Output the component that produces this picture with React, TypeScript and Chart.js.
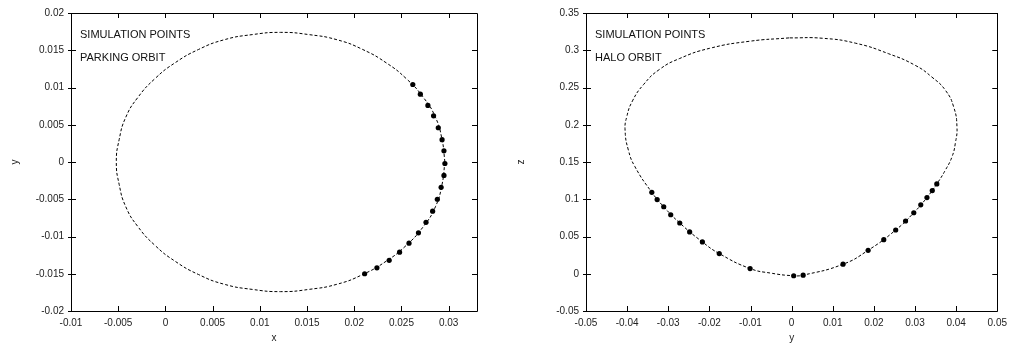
import React, { useEffect, useRef } from "react";
import { Chart, registerables } from "chart.js";

Chart.register(...registerables);

// ---------- Left chart: parking orbit (x / y) ----------
const parkingSimX = [0.0262, 0.0270, 0.0278, 0.0284, 0.0289, 0.0293, 0.0295, 0.0296, 0.0295, 0.0292, 0.0288, 0.0283, 0.0276, 0.0268, 0.0258, 0.0248, 0.0237, 0.0224, 0.0211];
const parkingSimY = [0.0104, 0.0091, 0.0076, 0.0062, 0.0046, 0.0030, 0.0015, -0.0002, -0.0018, -0.0034, -0.0050, -0.0066, -0.0081, -0.0095, -0.0109, -0.0121, -0.0132, -0.0142, -0.0150];

const parkingOrbitX = [0.0296, 0.0293, 0.0286, 0.0273, 0.0255, 0.0234, 0.0209, 0.0182, 0.0152, 0.0122, 0.0092, 0.0062, 0.0035, 0.0010, -0.0011, -0.0029, -0.0042, -0.0049, -0.0052, -0.0049, -0.0042, -0.0029, -0.0011, 0.0010, 0.0035, 0.0062, 0.0092, 0.0122, 0.0152, 0.0182, 0.0209, 0.0234, 0.0255, 0.0273, 0.0286, 0.0293, 0.0296];
const parkingOrbitY = [0, 0.0030, 0.0060, 0.0087, 0.0112, 0.0133, 0.0151, 0.0164, 0.0171, 0.0174, 0.0171, 0.0164, 0.0151, 0.0133, 0.0112, 0.0087, 0.0060, 0.0030, 0, -0.0030, -0.0060, -0.0087, -0.0112, -0.0133, -0.0151, -0.0164, -0.0171, -0.0174, -0.0171, -0.0164, -0.0151, -0.0133, -0.0112, -0.0087, -0.0060, -0.0030, 0];

const leftXTicks = [-0.01, -0.005, 0, 0.005, 0.01, 0.015, 0.02, 0.025, 0.03];
const leftYTicks = [-0.02, -0.015, -0.01, -0.005, 0, 0.005, 0.01, 0.015, 0.02];

// ---------- Right chart: halo orbit (y / z) ----------
const haloSimY = [-0.0340, -0.0327, -0.0311, -0.0294, -0.0272, -0.0248, -0.0217, -0.0176, -0.0101, 0.0005, 0.0028, 0.0125, 0.0186, 0.0224, 0.0253, 0.0277, 0.0297, 0.0314, 0.0329, 0.0342, 0.0353];
const haloSimZ = [0.1093, 0.0996, 0.0899, 0.0792, 0.0681, 0.0561, 0.0427, 0.0271, 0.0070, -0.0027, -0.0019, 0.0128, 0.0315, 0.0458, 0.0587, 0.0708, 0.0819, 0.0925, 0.1023, 0.1117, 0.1206];

const haloOrbitY = [-0.0006, -0.0102, -0.0200, -0.0272, -0.0322, -0.0360, -0.0387, -0.0401, -0.0405, -0.0397, -0.0381, -0.0340, -0.0311, -0.0272, -0.0217, -0.0176, -0.0101, -0.0050, 0.0005, 0.0028, 0.0125, 0.0186, 0.0253, 0.0297, 0.0329, 0.0353, 0.0374, 0.0390, 0.0398, 0.0402, 0.0394, 0.0374, 0.0341, 0.0301, 0.0236, 0.0156, 0.0075, -0.0006];
const haloOrbitZ = [0.3166, 0.3121, 0.3025, 0.2890, 0.2740, 0.2540, 0.2320, 0.2105, 0.1928, 0.1660, 0.1437, 0.1093, 0.0899, 0.0681, 0.0427, 0.0271, 0.0070, 0.0008, -0.0027, -0.0019, 0.0128, 0.0315, 0.0587, 0.0819, 0.1023, 0.1206, 0.1393, 0.1571, 0.1750, 0.1972, 0.2239, 0.2462, 0.2640, 0.2796, 0.2953, 0.3094, 0.3161, 0.3166];

const rightXTicks = [-0.05, -0.04, -0.03, -0.02, -0.01, 0, 0.01, 0.02, 0.03, 0.04, 0.05];
const rightYTicks = [-0.05, 0, 0.05, 0.1, 0.15, 0.2, 0.25, 0.3, 0.35];

const FONT = "'Liberation Sans', Arial, Helvetica, sans-serif";

const zip = (a: number[], b: number[]) => a.map((v, i) => ({ x: v, y: b[i] }));

const framePlugin = {
  id: "frameTicks",
  afterDraw(chart: any) {
    const { ctx, chartArea: a } = chart;
    const xs = chart.scales.x;
    const ys = chart.scales.y;
    ctx.save();
    ctx.strokeStyle = "#000";
    ctx.lineWidth = 1;
    ctx.beginPath();
    ctx.rect(Math.round(a.left) + 0.5, Math.round(a.top) + 0.5, Math.round(a.right - a.left), Math.round(a.bottom - a.top));
    ctx.stroke();
    const L = 5;
    ctx.beginPath();
    xs.ticks.forEach((t: any) => {
      const px = Math.round(xs.getPixelForValue(t.value)) + 0.5;
      ctx.moveTo(px, a.bottom);
      ctx.lineTo(px, a.bottom - L);
      ctx.moveTo(px, a.top);
      ctx.lineTo(px, a.top + L);
    });
    ys.ticks.forEach((t: any) => {
      const py = Math.round(ys.getPixelForValue(t.value)) + 0.5;
      ctx.moveTo(a.left - 3, py);
      ctx.lineTo(a.left + L, py);
      ctx.moveTo(a.right, py);
      ctx.lineTo(a.right - L, py);
    });
    ctx.stroke();
    // key text
    ctx.fillStyle = "#111";
    ctx.font = `11px ${FONT}`;
    ctx.textBaseline = "middle";
    ctx.textAlign = "left";
    chart.data.datasets.forEach((d: any, i: number) => {
      ctx.fillText(d.label, a.left + 9, a.top + 22 + i * 23);
    });
    ctx.restore();
  },
};

function makeConfig(opts: {
  simData: { x: number; y: number }[];
  orbitData: { x: number; y: number }[];
  orbitLabel: string;
  xMin: number;
  xMax: number;
  yMin: number;
  yMax: number;
  xTicks: number[];
  yTicks: number[];
  xTitle: string;
  yTitle: string;
  yWidth: number;
  padRight: number;
}) {
  return {
    type: "scatter" as const,
    data: {
      datasets: [
        {
          label: "SIMULATION POINTS",
          data: opts.simData,
          showLine: false,
          pointRadius: 2.6,
          pointBackgroundColor: "#000",
          pointBorderWidth: 0,
          pointBorderColor: "#000",
        },
        {
          label: opts.orbitLabel,
          data: opts.orbitData,
          showLine: true,
          pointRadius: 0,
          borderColor: "#000",
          borderWidth: 1,
          borderDash: [3, 2],
          tension: 0.5,
          fill: false,
        },
      ],
    },
    options: {
      responsive: false,
      animation: false,
      maintainAspectRatio: false,
      layout: { padding: { top: 12, right: opts.padRight, left: 0, bottom: 0 } },
      plugins: {
        legend: { display: false },
        tooltip: { enabled: false },
      },
      scales: {
        x: {
          type: "linear",
          min: opts.xMin,
          max: opts.xMax,
          afterBuildTicks: (s: any) => {
            s.ticks = opts.xTicks.map((v) => ({ value: v }));
          },
          afterFit: (s: any) => {
            s.height = 36;
          },
          grid: { display: false, drawTicks: false },
          border: { display: false },
          ticks: {
            autoSkip: false,
            maxRotation: 0,
            padding: 6,
            color: "#222",
            font: { size: 10, family: FONT },
            callback: (v: any) => String(v),
          },
          title: {
            display: true,
            text: opts.xTitle,
            color: "#222",
            font: { size: 10, family: FONT },
            padding: { top: 0, bottom: 3 },
          },
        },
        y: {
          type: "linear",
          min: opts.yMin,
          max: opts.yMax,
          afterBuildTicks: (s: any) => {
            s.ticks = opts.yTicks.map((v) => ({ value: v }));
          },
          afterFit: (s: any) => {
            s.width = opts.yWidth;
          },
          grid: { display: false, drawTicks: false },
          border: { display: false },
          ticks: {
            autoSkip: false,
            padding: 7,
            color: "#222",
            font: { size: 10, family: FONT },
            callback: (v: any) => String(v),
          },
          title: {
            display: true,
            text: opts.yTitle,
            color: "#222",
            font: { size: 10, family: FONT },
            padding: { top: 9, bottom: 0 },
          },
        },
      },
    },
    plugins: [framePlugin],
  };
}

function ChartCanvas({ config, width, height, left }: any) {
  const ref = useRef<HTMLCanvasElement | null>(null);
  useEffect(() => {
    if (!ref.current) return;
    const chart = new Chart(ref.current, config as any);
    return () => chart.destroy();
  }, []);
  return (
    <canvas
      ref={ref}
      width={width}
      height={height}
      style={{ position: "absolute", left, top: 0, width, height }}
    />
  );
}

export default function App() {
  const leftConfig = makeConfig({
    simData: zip(parkingSimX, parkingSimY),
    orbitData: zip(parkingOrbitX, parkingOrbitY),
    orbitLabel: "PARKING ORBIT",
    xMin: -0.01,
    xMax: 0.033,
    yMin: -0.02,
    yMax: 0.02,
    xTicks: leftXTicks,
    yTicks: leftYTicks,
    xTitle: "x",
    yTitle: "y",
    yWidth: 71,
    padRight: 13,
  });
  const rightConfig = makeConfig({
    simData: zip(haloSimY, haloSimZ),
    orbitData: zip(haloOrbitY, haloOrbitZ),
    orbitLabel: "HALO ORBIT",
    xMin: -0.05,
    xMax: 0.05,
    yMin: -0.05,
    yMax: 0.35,
    xTicks: rightXTicks,
    yTicks: rightYTicks,
    xTitle: "y",
    yTitle: "z",
    yWidth: 80,
    padRight: 14,
  });
  return (
    <div style={{ position: "fixed", left: 0, top: 0, width: 1013, height: 347, background: "#fff" }}>
      <ChartCanvas config={leftConfig} width={490} height={347} left={0} />
      <ChartCanvas config={rightConfig} width={507} height={347} left={506} />
    </div>
  );
}
